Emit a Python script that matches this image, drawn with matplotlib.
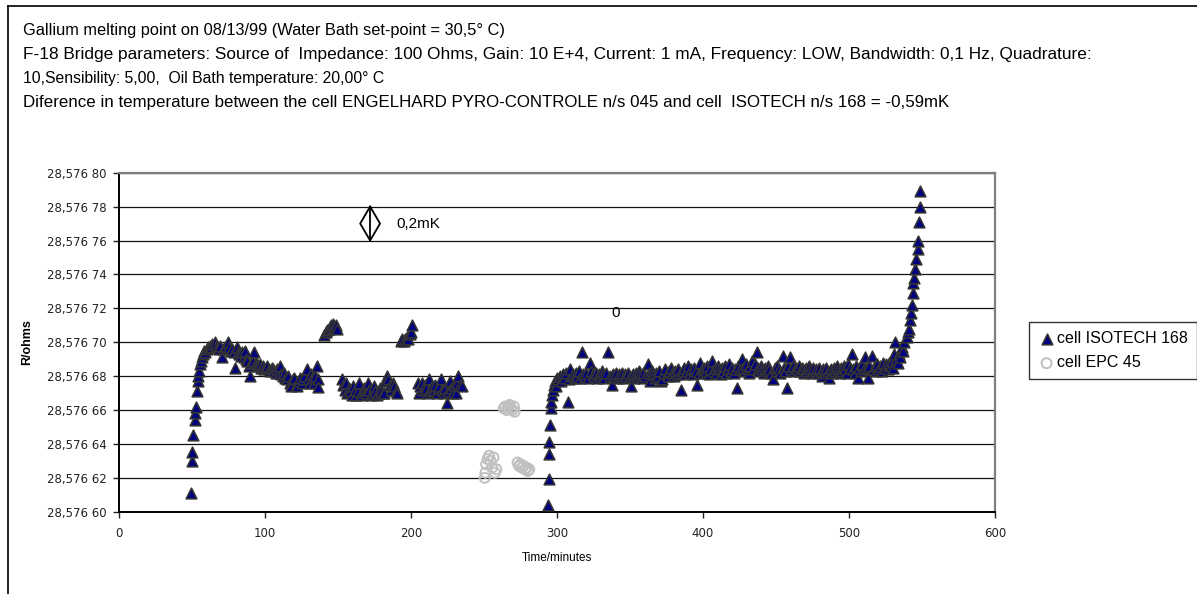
import matplotlib
matplotlib.use("Agg")
import matplotlib.pyplot as plt
from matplotlib.lines import Line2D
from matplotlib.ticker import FuncFormatter, MultipleLocator

plt.rcParams["font.family"] = ["Liberation Sans", "DejaVu Sans"]

# resistance values are written as the last digits shown on the axis:
# R = 28.576 + v * 1e-5  (so 68.2 -> 28,576 68 2)
R_BASE = 28.576
R_STEP = 1e-5

# cell ISOTECH 168, first run (before the gap)
iso_t1 = [49.5, 50.0, 50.3, 51.0, 51.8, 52.3, 52.6, 53.2, 53.8, 54.3, 55.0, 55.6,
          56.3, 57.0, 57.8, 58.5, 59.2, 60.0, 61.0, 62.0, 63.0, 64.0, 65.5, 66.5,
          67.5, 68.5, 69.5, 70.3, 71.5, 72.5, 73.5, 74.7, 75.5, 76.5, 77.5, 78.5,
          79.5, 80.6, 81.5, 82.5, 83.5, 84.5, 85.5, 86.3, 87.2, 88.0, 89.0, 89.7,
          90.5, 91.5, 92.5, 93.5, 94.5, 95.5, 96.5, 97.5, 98.5, 99.5, 100.5, 101.5,
          102.5, 103.5, 104.5, 105.5, 106.5, 107.5, 108.5, 109.5, 110.2, 111.0, 112.0, 113.0,
          114.0, 115.0, 116.0, 117.0, 118.0, 119.0, 120.0, 121.0, 122.0, 123.0, 124.0, 125.0,
          126.0, 127.0, 128.5, 129.5, 130.5, 131.5, 132.5, 133.5, 134.5, 135.5, 136.0, 136.6,
          140.5, 141.5, 142.5, 143.5, 144.5, 145.5, 146.7, 147.5, 148.5, 149.2,
          152.5, 153.5, 154.5, 155.5, 156.5, 157.5, 158.5, 159.5, 160.5, 161.5, 162.5, 163.5,
          164.5, 165.5, 166.5, 167.5, 168.5, 169.5, 170.5, 171.5, 172.5, 173.5, 174.5, 175.5,
          176.5, 177.5, 178.5, 179.5, 180.5, 181.5, 182.5, 183.5, 184.5, 185.5, 186.5, 187.5,
          188.5, 189.5, 190.5,
          193.0, 194.0, 195.0, 196.0, 197.0, 198.0, 199.0, 200.0, 201.0,
          204.5, 205.5, 206.5, 207.5, 208.5, 209.5, 210.5, 211.5, 212.5, 213.5, 214.5, 215.5,
          216.5, 217.5, 218.5, 219.5, 220.5, 221.5, 222.5, 223.5, 224.4, 225.5, 226.7, 227.5,
          228.5, 229.5, 230.5, 231.5, 232.3, 233.5, 234.7]
iso_v1 = [61.1, 63.0, 63.5, 64.5, 65.4, 65.8, 66.2, 67.1, 67.7, 68.0, 68.3, 68.7,
          68.9, 69.1, 69.3, 69.5, 69.4, 69.6, 69.7, 69.8, 69.7, 69.9, 70.0, 69.8,
          69.7, 69.6, 69.8, 69.1, 69.6, 69.7, 69.8, 70.0, 69.7, 69.5, 69.6, 69.4,
          68.5, 69.7, 69.4, 69.3, 69.2, 69.4, 69.1, 69.5, 69.0, 68.9, 68.6, 68.0,
          68.8, 68.9, 69.4, 68.8, 68.7, 68.6, 68.7, 68.5, 68.6, 68.4, 68.5, 68.6,
          68.4, 68.3, 68.5, 68.4, 68.3, 68.2, 68.4, 68.2, 68.6, 68.1, 68.0, 68.2,
          67.9, 67.8, 68.0, 67.6, 67.4, 67.8, 67.9, 67.5, 67.4, 67.7, 67.9, 67.6,
          67.8, 68.0, 68.4, 67.8, 67.6, 68.1, 67.9, 67.6, 68.0, 68.6, 67.8, 67.35,
          70.4, 70.6, 70.7, 70.8, 70.9, 71.0, 71.1, 70.9, 71.0, 70.8,
          67.8, 67.5, 67.2, 67.6, 67.0, 67.3, 67.1, 66.9, 67.4, 67.2, 66.9, 67.1,
          67.6, 67.0, 66.9, 67.3, 67.1, 67.0, 67.6, 67.2, 66.9, 67.0, 67.4, 67.1,
          66.9, 67.0, 67.3, 67.1, 67.0, 67.0, 67.7, 68.0, 67.8, 67.5, 67.2, 67.6,
          67.4, 67.1, 67.0,
          70.1, 70.2, 70.1, 70.2, 70.3, 70.2, 70.5, 70.6, 71.0,
          67.6, 67.0, 67.4, 67.6, 67.2, 67.5, 67.3, 67.0, 67.8, 67.1, 67.4, 67.2,
          67.5, 67.0, 67.3, 67.4, 67.8, 67.2, 67.0, 67.3, 66.4, 67.1, 67.7, 67.3,
          67.0, 67.5, 67.0, 67.6, 68.0, 67.5, 67.4]

# cell ISOTECH 168, second run
iso_t2 = [294.0, 294.2, 294.4, 294.8, 295.3, 295.7, 296.0, 296.5, 297.0, 297.8, 298.5, 299.3,
          300.0, 301.0, 302.0, 303.0, 304.0, 305.0, 306.0, 307.5, 308.0, 309.0, 310.0, 311.0,
          312.0, 313.0, 314.0, 315.0, 316.0, 317.0, 318.0, 319.0, 320.0, 321.0, 322.6, 323.5,
          324.5, 325.5, 326.5, 327.5, 328.5, 329.5, 330.5, 331.5, 332.5, 333.5, 335.0, 336.0,
          337.4, 338.5, 339.5, 340.5, 341.5, 342.5, 343.5, 344.5, 345.5, 346.5, 347.5, 348.5,
          350.0, 351.0, 352.0, 353.0, 354.0, 355.0, 356.0, 357.0, 358.0, 359.0, 360.0, 362.0,
          363.0, 364.0, 365.0, 366.0, 367.0, 368.0, 369.0, 370.0, 371.0, 372.0, 373.0, 374.0,
          375.0, 376.0, 377.0, 378.0, 379.0, 380.0, 381.0, 382.0, 383.0, 384.0, 385.0, 386.0,
          387.0, 388.0, 389.0, 390.0, 391.0, 392.0, 393.0, 394.0, 395.0, 396.0, 397.0, 398.0,
          399.0, 400.0, 401.0, 402.0, 403.0, 404.0, 405.0, 406.0, 407.0, 408.0, 409.0, 410.0,
          411.0, 412.0, 413.0, 414.0, 415.0, 416.0, 417.0, 418.0, 419.0, 420.0, 421.0, 422.0,
          423.0, 424.0, 425.0, 426.5, 427.5, 428.5, 429.5, 430.5, 431.5, 432.5, 433.5, 434.5,
          435.5, 436.7, 437.5, 438.5, 439.5, 440.5, 441.5, 442.5, 443.5, 444.5, 445.5, 446.5,
          448.0, 449.0, 450.0, 451.0, 452.0, 453.0, 454.6, 455.5, 456.5, 457.3, 458.5, 459.6,
          460.5, 461.5, 462.5, 463.5, 464.5, 465.5, 466.5, 467.5, 468.5, 469.5, 470.5, 471.5,
          472.5, 473.5, 474.5, 475.5, 476.5, 477.5, 478.5, 479.5, 480.5, 481.5, 482.5, 483.5,
          484.5, 485.5, 486.5, 487.5, 488.5, 489.5, 490.5, 491.5, 492.5, 493.5, 494.5, 495.5,
          496.5, 497.5, 498.5, 499.5, 500.5, 502.0, 503.0, 504.0, 505.0, 506.0, 507.0, 508.0,
          509.0, 510.0, 511.0, 512.0, 513.0, 514.0, 515.5, 516.5, 517.5, 518.5, 519.5, 520.5,
          521.5, 522.5, 523.5, 524.5, 525.5, 526.5, 527.5, 528.5, 529.5, 530.0, 531.0, 531.5,
          532.5, 533.5, 534.5, 535.0, 536.0, 537.0, 538.0, 539.5, 540.2, 541.0, 541.8, 542.3,
          543.0, 543.6, 544.0, 544.5, 545.2, 546.0, 547.0, 547.5, 548.0, 548.3, 548.6]
iso_v2 = [60.4, 61.9, 63.4, 64.1, 65.1, 66.1, 66.5, 66.9, 67.2, 67.5, 67.7, 67.4,
          67.9, 67.8, 68.0, 67.7, 68.1, 67.9, 68.2, 66.5, 67.8, 68.4, 68.0, 68.1,
          67.9, 68.2, 68.0, 68.3, 67.9, 69.4, 68.1, 68.0, 68.2, 67.9, 68.8, 68.3,
          68.1, 68.0, 68.2, 67.9, 68.1, 68.0, 68.3, 68.1, 67.9, 68.2, 69.45, 68.0,
          67.5, 68.1, 68.0, 68.2, 67.9, 68.1, 68.0, 68.2, 67.9, 68.1, 68.0, 68.2,
          68.0, 67.4, 68.1, 67.9, 68.2, 68.0, 68.3, 68.1, 67.9, 68.2, 68.0, 68.7,
          68.2, 67.7, 68.3, 68.1, 67.9, 68.2, 68.0, 68.3, 67.7, 67.8, 68.2, 68.4,
          68.1, 68.0, 68.3, 68.5, 68.2, 68.0, 68.3, 68.1, 68.4, 68.2, 67.2, 68.3,
          68.5, 68.1, 68.3, 68.6, 68.2, 68.4, 68.1, 68.5, 68.3, 67.45, 68.2, 68.8,
          68.4, 68.2, 68.5, 68.3, 68.6, 68.1, 68.4, 68.9, 68.3, 68.5, 68.2, 68.6,
          68.4, 68.1, 68.5, 68.3, 68.6, 68.2, 68.4, 68.7, 68.3, 68.5, 68.2, 68.4,
          67.3, 68.6, 68.4, 69.0, 68.5, 68.3, 68.7, 68.4, 68.2, 68.6, 68.9, 68.4,
          68.7, 69.4, 68.5, 68.3, 68.6, 68.4, 68.2, 68.5, 68.3, 68.6, 68.4, 68.2,
          67.85, 68.5, 68.3, 68.6, 68.4, 68.2, 69.2, 68.5, 68.3, 67.3, 68.6, 69.1,
          68.4, 68.6, 68.3, 68.5, 68.4, 68.6, 68.3, 68.5, 68.4, 68.2, 68.5, 68.3,
          68.6, 68.4, 68.2, 68.5, 68.3, 68.4, 68.2, 68.5, 68.3, 68.0, 68.4, 68.2,
          68.5, 68.3, 67.9, 68.4, 68.2, 68.5, 68.3, 68.6, 68.4, 68.2, 68.5, 68.3,
          68.6, 68.4, 68.2, 68.7, 68.5, 69.3, 68.4, 68.2, 68.6, 67.9, 68.5, 68.3,
          68.7, 68.4, 69.1, 68.5, 67.9, 68.6, 69.2, 68.4, 68.6, 68.3, 68.7, 68.4,
          68.6, 68.3, 68.8, 68.5, 68.7, 68.4, 68.8, 68.6, 68.9, 68.45, 69.3, 70.0,
          69.0, 68.8, 69.3, 69.1, 69.7, 69.5, 70.0, 70.3, 70.6, 70.8, 71.3, 71.7,
          72.2, 72.9, 73.5, 73.8, 74.3, 74.9, 75.5, 76.0, 77.1, 78.0, 78.9]

# cell EPC 45
epc_t = [250.5, 251.0, 251.5, 252.5, 253.5, 254.5, 255.5, 256.5, 257.5, 258.5,
         263.5, 264.5, 265.5, 266.5, 267.5, 268.5, 269.5, 270.5, 271.0,
         273.0, 274.0, 275.0, 276.0, 277.0, 278.0, 279.0, 280.0, 281.0]
epc_v = [62.0, 62.3, 62.8, 63.1, 63.3, 63.0, 62.6, 63.2, 62.3, 62.5,
         66.1, 66.2, 66.0, 66.2, 66.3, 66.1, 66.0, 66.2, 65.9,
         62.9, 62.7, 62.8, 62.6, 62.7, 62.5, 62.6, 62.4, 62.5]

title_lines = [
    "Gallium melting point on 08/13/99 (Water Bath set-point = 30,5° C)",
    "F-18 Bridge parameters: Source of  Impedance: 100 Ohms, Gain: 10 E+4, Current: 1 mA, "
    "Frequency: LOW, Bandwidth: 0,1 Hz, Quadrature:",
    "10,Sensibility: 5,00,  Oil Bath temperature: 20,00° C",
    "Diference in temperature between the cell ENGELHARD PYRO-CONTROLE n/s 045 and cell  "
    "ISOTECH n/s 168 = -0,59mK",
]
title_sizes = [11.8, 12.4, 11.3, 12.2]
title_rows = [31, 55, 78.5, 102]


def to_ohm(vals):
    return [R_BASE + v * R_STEP for v in vals]


def ohm_label(x, pos):
    s = f"{x:.5f}".replace(".", ",")
    return s[:6] + " " + s[6:]


fig = plt.figure(figsize=(11.97, 5.94), dpi=100)
ax = fig.add_axes([119 / 1197, 1 - 511.7 / 594, 876 / 1197, 339 / 594])

ax.scatter(iso_t1 + iso_t2, to_ohm(iso_v1 + iso_v2), marker="^", s=58,
           facecolor="#000080", edgecolor="#333333", linewidth=1.2,
           label="cell ISOTECH 168", zorder=3)
ax.scatter(epc_t, to_ohm(epc_v), marker="o", s=52, facecolor="none",
           edgecolor="#c0c0c0", linewidth=1.4, label="cell EPC 45", zorder=3)

ax.set_xlim(0, 600)
ax.set_ylim(R_BASE + 60 * R_STEP, R_BASE + 80 * R_STEP)
ax.xaxis.set_major_locator(MultipleLocator(100))
ax.yaxis.set_major_locator(MultipleLocator(2 * R_STEP))
ax.yaxis.set_major_formatter(FuncFormatter(ohm_label))
ax.yaxis.grid(True, color="#111111", linewidth=0.9)
ax.set_axisbelow(True)

for side in ("left", "bottom"):
    ax.spines[side].set_color("black")
    ax.spines[side].set_linewidth(1.4)
for side in ("top", "right"):
    ax.spines[side].set_color("#808080")
    ax.spines[side].set_linewidth(1.6)

ax.tick_params(axis="y", direction="out", length=4, width=1, pad=5,
               labelsize=8.5, colors="#222222")
ax.tick_params(axis="x", direction="out", length=4, width=1, pad=7,
               labelsize=8.5, colors="#222222")
for lab in ax.get_xticklabels() + ax.get_yticklabels():
    lab.set_family(["DejaVu Sans"])
ax.set_xlabel("Time/minutes", fontsize=8.5, labelpad=9)
ax.set_ylabel("R/ohms", fontsize=9, fontweight="bold", labelpad=10)

# 0,2 mK scale marker
arrow_t = 172
arrow_w = 6.8
lo, hi, mid = R_BASE + 76 * R_STEP, R_BASE + 78 * R_STEP, R_BASE + 77 * R_STEP
ax.plot([arrow_t, arrow_t], [lo, hi], color="black", lw=1.3, zorder=4)
ax.plot([arrow_t, arrow_t - arrow_w, arrow_t, arrow_t + arrow_w, arrow_t],
        [hi, mid, lo, mid, hi], color="black", lw=1.3, zorder=4)
ax.text(190, mid, "0,2mK", fontsize=11, va="center", ha="left")
ax.text(340, R_BASE + 71.7 * R_STEP, "0", fontsize=11, va="center", ha="center")

leg = ax.legend(loc="upper left", bbox_to_anchor=(1029 / 1197, 1 - 322 / 594),
                bbox_transform=fig.transFigure, frameon=True, fancybox=False,
                fontsize=11.5, handletextpad=0.1, handlelength=1.1,
                borderpad=0.55, labelspacing=0.6, borderaxespad=0)
leg.get_frame().set_edgecolor("black")
leg.get_frame().set_linewidth(1.0)

for line, size, row in zip(title_lines, title_sizes, title_rows):
    fig.text(23 / 1197, 1 - row / 594, line, fontsize=size, va="center", ha="left")

# outer chart frame (left and top edges are visible in the picture)
fig.add_artist(Line2D([8 / 1197, 8 / 1197], [0, 1 - 6 / 594], color="black", lw=1.2))
fig.add_artist(Line2D([8 / 1197, 1], [1 - 6 / 594, 1 - 6 / 594], color="black", lw=1.2))

fig.savefig("out.png", dpi=100)
